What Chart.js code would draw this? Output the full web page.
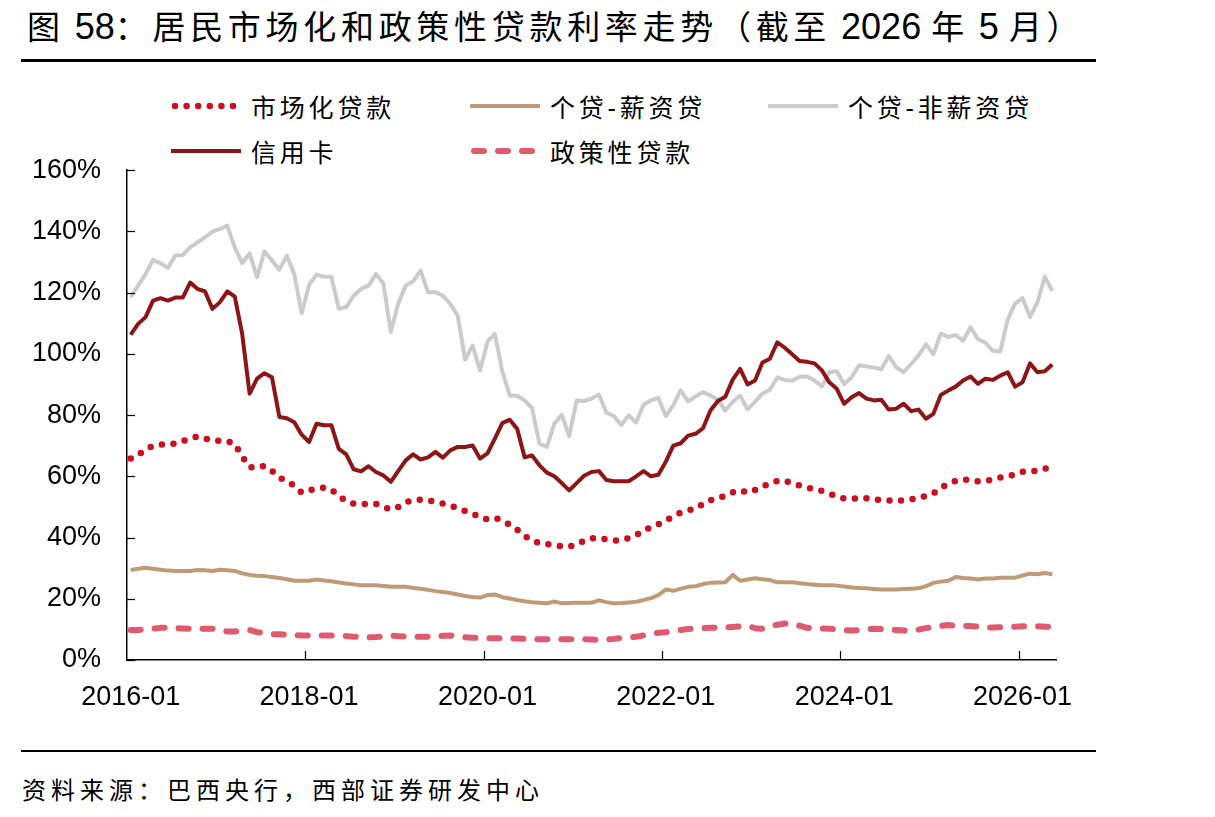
<!DOCTYPE html>
<html lang="zh-CN">
<head>
<meta charset="utf-8">
<script src="https://cdn.jsdelivr.net/npm/chart.js@4.4.1/dist/chart.umd.min.js"></script>
<style>
  html, body { margin: 0; padding: 0; background: #fff; }
  body { width: 1215px; height: 817px; position: relative; overflow: hidden;
         font-family: "Liberation Sans", "Noto Sans CJK SC", sans-serif; color: #000; }
  .title { position: absolute; left: 27px; top: 1px; font-size: 33px; white-space: nowrap; }
  .title .cjk { letter-spacing: 4.7px; }
  .title .num { font-size: 36px; letter-spacing: 0; }
  .rule { position: absolute; left: 21px; width: 1075px; background: #000; }
  .source { position: absolute; left: 22px; top: 771px; font-size: 24px; letter-spacing: 5px; white-space: nowrap; }
  .lg { position: absolute; height: 30px; display: flex; align-items: center; white-space: nowrap;
        font-size: 25px; letter-spacing: 3.8px; }
  .lg svg { margin-right: 10px; }
  .chart-box { position: absolute; left: 0; top: 128px; width: 1215px; height: 592px; }
</style>
</head>
<body>
<div class="title"><span class="cjk">图</span><span class="num"> 58</span><span class="cjk">：居民市场化和政策性贷款利率走势（截至</span><span class="num"> 2026 </span><span class="cjk">年</span><span class="num"> 5 </span><span class="cjk">月）</span></div>
<div class="rule" style="top:59px;height:2.5px"></div>
<div id="legend"></div>
<div class="chart-box"><canvas id="rateChart"></canvas></div>
<div class="rule" style="top:750px;height:2px"></div>
<div class="source">资料来源：巴西央行，西部证券研发中心</div>

<script>
// 月份 2016-01 ~ 2026-05
const months = [];
for (let yr = 2016; yr <= 2026; yr++) {
    for (let m = 1; m <= 12; m++) {
        if (yr === 2026 && m > 5) break;
        months.push(`${yr}-${String(m).padStart(2, '0')}`);
    }
}
const tickLabels = ['2016-01', '2018-01', '2020-01', '2022-01', '2024-01', '2026-01'];

// 市场化贷款 (%)
const marketLoan = [
    65.8, 67.0, 68.8, 70.0, 70.4, 70.5, 70.7, 71.5, 72.3, 73.0, 72.3, 71.7,
    71.6, 71.5, 70.5, 66.5, 63.0, 62.8, 63.4, 61.8, 59.6, 58.3, 57.0, 54.7,
    55.4, 56.0, 56.3, 55.7, 53.5, 52.0, 51.1, 51.0, 51.0, 51.0, 50.0, 49.2,
    50.0, 51.5, 52.2, 52.4, 52.1, 51.7, 51.1, 50.4, 49.6, 48.7, 47.8, 46.6,
    45.9, 46.4, 45.6, 44.2, 42.6, 40.5, 39.1, 38.1, 37.9, 37.5, 37.2, 37.0,
    37.8, 39.0, 39.8, 39.8, 39.4, 39.0, 39.2, 39.8, 40.8, 42.1, 43.5, 44.4,
    45.5, 47.0, 48.1, 48.9, 49.4, 51.0, 52.2, 53.0, 53.6, 54.8, 55.5, 54.7,
    55.5, 56.6, 57.7, 58.5, 58.6, 57.6, 57.0, 56.3, 55.9, 55.2, 54.4, 53.4,
    52.8, 52.7, 52.9, 52.8, 52.4, 52.3, 52.1, 51.9, 52.2, 52.5, 52.8, 53.6,
    54.4, 56.2, 57.5, 58.5, 59.0, 58.8, 58.4, 58.6, 58.9, 59.6, 60.1, 60.6,
    61.5, 61.6, 61.8, 62.5, 63.0
];

// 个贷-薪资贷 (%)
const salaryLoan = [
    29.4, 29.8, 30.1, 29.8, 29.5, 29.2, 29.1, 29.1, 29.1, 29.4, 29.3, 29.1,
    29.5, 29.3, 29.1, 28.3, 27.8, 27.5, 27.4, 27.1, 26.8, 26.4, 25.9, 25.9,
    25.9, 26.3, 26.0, 25.7, 25.3, 25.0, 24.7, 24.4, 24.4, 24.4, 24.2, 23.9,
    23.9, 23.9, 23.5, 23.3, 22.9, 22.5, 22.2, 21.9, 21.4, 20.9, 20.6, 20.4,
    21.2, 21.4, 20.5, 20.1, 19.6, 19.2, 18.9, 18.7, 18.5, 19.1, 18.5, 18.6,
    18.7, 18.7, 18.7, 19.5, 18.9, 18.5, 18.6, 18.8, 19.0, 19.6, 20.2, 21.2,
    23.0, 22.6, 23.3, 23.9, 24.1, 24.8, 25.2, 25.3, 25.4, 27.8, 25.9, 26.3,
    26.7, 26.4, 26.1, 25.4, 25.4, 25.4, 25.1, 24.8, 24.6, 24.4, 24.4, 24.3,
    24.0, 23.7, 23.5, 23.4, 23.2, 23.0, 23.0, 23.0, 23.2, 23.3, 23.4, 24.1,
    25.2, 25.6, 25.9, 27.1, 26.8, 26.6, 26.3, 26.6, 26.6, 26.9, 26.9, 26.9,
    27.6, 28.2, 28.0, 28.4, 28.0
];

// 个贷-非薪资贷 (%)
const nonSalaryLoan = [
    118.5, 122.3, 126.1, 130.7, 129.6, 128.1, 132.1, 132.3, 134.8, 136.4, 138.1, 139.9,
    140.8, 141.9, 134.8, 129.6, 132.8, 125.0, 133.5, 130.5, 127.5, 132.1, 126.1, 113.3,
    122.6, 125.9, 125.2, 125.2, 114.7, 115.3, 119.0, 121.2, 122.3, 126.1, 123.0, 107.1,
    116.5, 122.3, 123.7, 127.2, 120.1, 120.2, 119.0, 116.3, 112.5, 98.1, 102.7, 94.6,
    104.0, 106.5, 94.3, 86.4, 86.3, 84.8, 82.3, 70.7, 69.6, 77.2, 80.1, 73.1,
    84.8, 84.6, 85.4, 86.7, 80.8, 79.7, 76.8, 79.9, 77.6, 83.4, 84.8, 85.6,
    79.7, 83.2, 88.1, 84.4, 86.1, 87.5, 86.4, 85.0, 81.5, 84.3, 86.4, 81.9,
    84.3, 87.0, 88.3, 92.3, 91.5, 91.2, 92.5, 92.6, 91.3, 89.4, 94.0, 94.3,
    90.1, 92.4, 96.3, 95.9, 95.5, 95.0, 99.3, 95.7, 94.0, 96.7, 99.4, 103.2,
    99.9, 106.6, 105.5, 106.2, 104.3, 108.7, 104.8, 103.7, 101.0, 100.8, 111.3, 116.5,
    118.2, 112.1, 116.8, 125.2, 120.6
];

// 信用卡 (%)
const creditCard = [
    106.3, 109.8, 112.0, 117.4, 118.2, 117.4, 118.4, 118.4, 123.3, 121.2, 120.4, 114.7,
    116.9, 120.4, 118.7, 106.5, 87.0, 91.9, 93.7, 92.4, 79.4, 79.0, 77.7, 73.6,
    71.2, 77.2, 76.7, 76.7, 69.0, 67.2, 62.3, 61.6, 63.3, 61.4, 60.3, 58.2,
    61.8, 65.2, 67.2, 65.5, 66.2, 68.0, 66.1, 68.5, 69.6, 69.6, 70.1, 65.8,
    67.5, 72.3, 77.4, 78.5, 75.5, 66.2, 66.8, 63.6, 61.2, 60.0, 57.8, 55.4,
    57.8, 60.2, 61.4, 61.7, 58.8, 58.4, 58.4, 58.4, 60.0, 61.7, 60.0, 60.5,
    64.8, 70.0, 70.8, 73.3, 73.9, 75.7, 81.5, 84.6, 86.0, 91.6, 95.1, 90.0,
    91.3, 97.2, 98.4, 103.8, 102.0, 99.9, 97.7, 97.4, 96.9, 94.6, 90.7, 88.6,
    83.7, 85.8, 87.2, 85.4, 84.8, 85.0, 81.8, 82.1, 83.7, 81.3, 81.8, 78.8,
    80.4, 86.6, 88.0, 89.3, 91.3, 92.6, 90.2, 91.9, 91.5, 92.9, 94.0, 89.3,
    90.7, 96.9, 94.0, 94.3, 96.5
];

// 政策性贷款 (%)
const policyLoan = [
    9.8, 9.8, 10.0, 10.2, 10.5, 10.6, 10.4, 10.3, 10.2, 10.2, 10.2, 10.2,
    9.8, 9.3, 9.3, 9.6, 9.8, 9.1, 8.8, 8.4, 8.4, 8.3, 8.1, 8.0,
    8.0, 8.0, 8.0, 8.0, 8.0, 7.8, 7.6, 7.5, 7.4, 7.5, 7.7, 8.0,
    7.8, 7.6, 7.6, 7.6, 7.6, 7.7, 7.9, 8.0, 7.7, 7.4, 7.3, 7.2,
    7.1, 7.1, 7.1, 7.1, 7.0, 6.9, 6.8, 6.8, 6.8, 6.8, 6.8, 6.8,
    6.8, 6.8, 6.7, 6.6, 6.7, 6.9, 7.2, 7.3, 7.6, 8.0, 8.5, 8.9,
    9.1, 9.4, 9.8, 10.1, 10.3, 10.4, 10.5, 10.6, 10.6, 10.8, 11.0, 11.2,
    10.4, 10.2, 11.0, 11.5, 11.9, 11.8, 11.2, 10.5, 10.4, 10.3, 10.2, 10.0,
    9.8, 9.6, 9.8, 10.0, 10.2, 10.1, 10.0, 9.8, 9.6, 9.7, 9.9, 10.4,
    10.8, 11.1, 11.4, 11.2, 11.1, 11.1, 10.9, 10.6, 10.6, 10.7, 10.9, 10.9,
    11.0, 11.1, 11.0, 10.9, 10.9
];

const series = [
    { name: '市场化贷款', data: marketLoan, color: '#cc0f1f', width: 6.5, dash: [0, 11.6], cap: 'round', lg: [171, 106] },
    { name: '个贷-薪资贷', data: salaryLoan, color: '#c09a76', width: 4, dash: [], cap: 'butt', lg: [470, 106] },
    { name: '个贷-非薪资贷', data: nonSalaryLoan, color: '#cbcbcb', width: 4, dash: [], cap: 'butt', lg: [768, 106] },
    { name: '信用卡', data: creditCard, color: '#8c1515', width: 4, dash: [], cap: 'butt', lg: [171, 151] },
    { name: '政策性贷款', data: policyLoan, color: '#df5a6f', width: 6, dash: [10, 14], cap: 'round', lg: [470, 151] }
];

// 凡例（HTML）
const legendEl = document.getElementById('legend');
series.forEach(s => {
    const d = document.createElement('div');
    d.className = 'lg';
    d.style.left = s.lg[0] + 'px';
    d.style.top = (s.lg[1] - 15) + 'px';
    const dashAttr = s.dash.length ? `stroke-dasharray="${s.dash.join(' ')}"` : '';
    d.innerHTML = `<svg width="70" height="12"><line x1="${s.cap === 'round' ? 4 : 0}" y1="6" x2="70" y2="6"
        stroke="${s.color}" stroke-width="${s.width}" stroke-linecap="${s.cap}" ${dashAttr}/></svg><span>${s.name}</span>`;
    legendEl.appendChild(d);
});

// 内向きの目盛り線
const innerTicks = {
    id: 'innerTicks',
    afterDraw(chart) {
        const { ctx, chartArea, scales: { x, y } } = chart;
        const half = (x.getPixelForValue(1) - x.getPixelForValue(0)) / 2;
        ctx.save();
        ctx.strokeStyle = '#000';
        ctx.lineWidth = 1.2;
        months.forEach((m, i) => {
            if (i > 0 && tickLabels.includes(m)) {
                const px = Math.round(x.getPixelForValue(i) - half) + 0.5;
                ctx.beginPath();
                ctx.moveTo(px, chartArea.bottom);
                ctx.lineTo(px, chartArea.bottom - 9);
                ctx.stroke();
            }
        });
        y.ticks.forEach(t => {
            const py = Math.round(y.getPixelForValue(t.value)) + 0.5;
            ctx.beginPath();
            ctx.moveTo(chartArea.left, py);
            ctx.lineTo(chartArea.left + 8, py);
            ctx.stroke();
        });
        ctx.restore();
    }
};

// 描画順：信用卡を一番上に
const drawOrder = [3, 0, 2, 1, 4];

new Chart(document.getElementById('rateChart'), {
    type: 'line',
    data: {
        labels: months,
        datasets: drawOrder.map(k => {
            const s = series[k];
            return {
                label: s.name,
                data: s.data,
                borderColor: s.color,
                backgroundColor: s.color,
                borderWidth: s.width,
                borderDash: s.dash,
                borderCapStyle: s.cap,
                borderJoinStyle: 'round',
                pointRadius: 0,
                tension: 0,
                fill: false
            };
        })
    },
    options: {
        responsive: true,
        maintainAspectRatio: false,
        animation: false,
        // 上端は y 軸ラベルの padding (26 + 半行高) で決まる
        layout: { padding: { top: 0, right: 159, left: 0, bottom: 0 } },
        plugins: { legend: { display: false }, tooltip: { enabled: false } },
        scales: {
            x: {
                type: 'category',
                offset: true,
                grid: { display: false, drawTicks: false },
                border: { display: true, color: '#000', width: 1.5 },
                ticks: {
                    autoSkip: false, maxRotation: 0, minRotation: 0, padding: 21,
                    color: '#000', font: { family: 'Liberation Sans', size: 27 },
                    callback: (v, i) => tickLabels.includes(months[i]) ? months[i] : ''
                },
                afterFit: s => { s.height = 60; }
            },
            y: {
                min: 0, max: 160,
                grid: { display: false, drawTicks: false },
                border: { display: true, color: '#000', width: 1.5 },
                ticks: {
                    stepSize: 20, padding: 26, color: '#000',
                    font: { family: 'Liberation Sans', size: 27 },
                    callback: v => v + '%'
                },
                afterFit: s => { s.width = 127; }
            }
        }
    },
    plugins: [innerTicks]
});
</script>
</body>
</html>
